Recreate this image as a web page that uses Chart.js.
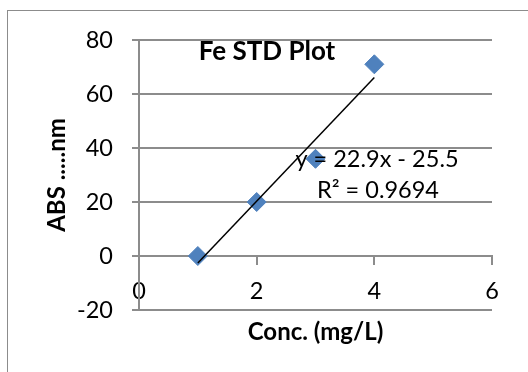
<!DOCTYPE html>
<html>
<head>
<meta charset="utf-8">
<script src="https://cdn.jsdelivr.net/npm/chart.js@4"></script>
<style>
  body { margin: 0; background: #fff; }
  #wrap { position: relative; width: 528px; height: 372px; }
</style>
</head>
<body>
<div id="wrap"><canvas id="feChart"></canvas></div>
<script>
// data
const concValues = [1, 2, 3, 4];
const absValues = [0, 20, 36, 71];
const xTickValues = [0, 2, 4, 6];
const yTickValues = [-20, 0, 20, 40, 60, 80];

const FONT = 'Lato';
const GRID = '#8c8c8c';

// least squares trendline, same as Excel's linear trendline
function linearFit(xs, ys) {
    const n = xs.length;
    const mx = xs.reduce((a, b) => a + b, 0) / n;
    const my = ys.reduce((a, b) => a + b, 0) / n;
    let sxy = 0, sxx = 0, syy = 0;
    for (let i = 0; i < n; i++) {
        sxy += (xs[i] - mx) * (ys[i] - my);
        sxx += (xs[i] - mx) * (xs[i] - mx);
        syy += (ys[i] - my) * (ys[i] - my);
    }
    const slope = sxy / sxx;
    const intercept = my - slope * mx;
    let ssRes = 0;
    for (let i = 0; i < n; i++) {
        const d = ys[i] - (slope * xs[i] + intercept);
        ssRes += d * d;
    }
    return {slope, intercept, r2: 1 - ssRes / syy};
}

const fit = linearFit(concValues, absValues);
const xFirst = concValues[0], xLast = concValues[concValues.length - 1];
const trendPoints = [
    {x: xFirst, y: fit.slope * xFirst + fit.intercept},
    {x: xLast, y: fit.slope * xLast + fit.intercept}
];
const eqText = 'y = ' + fit.slope.toFixed(1) + 'x - ' + Math.abs(fit.intercept).toFixed(1);
const r2Text = 'R\u00b2 = ' + fit.r2.toFixed(4);

// outer chart border, title and trendline label
const decorPlugin = {
    id: 'decor',
    beforeDraw(chart) {
        const ctx = chart.ctx;
        ctx.save();
        ctx.strokeStyle = GRID;
        ctx.lineWidth = 1;
        ctx.strokeRect(7.5, 10.5, 600, 600);
        ctx.restore();
    },
    afterDatasetsDraw(chart) {
        const ctx = chart.ctx;
        ctx.save();
        ctx.fillStyle = '#000';
        ctx.textAlign = 'center';
        ctx.textBaseline = 'middle';
        ctx.font = 'bold 26px ' + FONT;
        ctx.fillText('Fe STD Plot', 267, 52);
        ctx.font = '23.5px ' + FONT;
        ctx.fillText(eqText, 377, 159);
        ctx.fillText(r2Text, 378, 190);
        ctx.restore();
    }
};

new Chart(document.getElementById('feChart'), {
    type: 'scatter',
    data: {
        datasets: [{
            label: 'Trend',
            type: 'line',
            data: trendPoints,
            borderColor: '#000',
            borderWidth: 1.5,
            pointRadius: 0,
            fill: false,
            order: 0
        }, {
            label: 'ABS',
            data: concValues.map((c, i) => ({x: c, y: absValues[i]})),
            pointStyle: 'rectRot',
            pointRadius: 9.5,
            backgroundColor: '#4f81bd',
            borderColor: '#4f81bd',
            borderWidth: 1,
            order: 1
        }]
    },
    options: {
        responsive: true,
        maintainAspectRatio: false,
        animation: false,
        layout: {padding: {left: 0, top: 40, right: 36, bottom: 62}},
        plugins: {
            legend: {display: false},
            tooltip: {enabled: false},
            title: {display: false}
        },
        scales: {
            x: {
                type: 'linear',
                position: {y: 0},
                min: xTickValues[0],
                max: xTickValues[xTickValues.length - 1],
                afterBuildTicks: s => { s.ticks = xTickValues.map(v => ({value: v})); },
                afterFit: s => { s.height = 95; },
                grid: {drawOnChartArea: false, drawTicks: true, tickLength: 8, color: GRID, lineWidth: 2},
                border: {display: true, color: GRID, width: 2},
                ticks: {color: '#000', font: {family: FONT, size: 23.5}, padding: 13},
                title: {
                    display: true,
                    text: 'Conc. (mg/L)',
                    color: '#000',
                    font: {family: FONT, size: 24, weight: 'bold'},
                    padding: {top: 0, bottom: 4}
                }
            },
            y: {
                type: 'linear',
                min: yTickValues[0],
                max: yTickValues[yTickValues.length - 1],
                afterBuildTicks: s => { s.ticks = yTickValues.map(v => ({value: v})); },
                afterFit: s => { s.width = 139; },
                grid: {color: GRID, lineWidth: 2, tickLength: 7},
                border: {display: true, color: GRID, width: 2},
                ticks: {color: '#000', font: {family: FONT, size: 23.5}, padding: 19},
                title: {
                    display: true,
                    text: 'ABS .....nm',
                    color: '#000',
                    font: {family: FONT, size: 24, weight: 'bold'},
                    padding: {top: 43, bottom: 0}
                }
            }
        }
    },
    plugins: [decorPlugin]
});
</script>
</body>
</html>
